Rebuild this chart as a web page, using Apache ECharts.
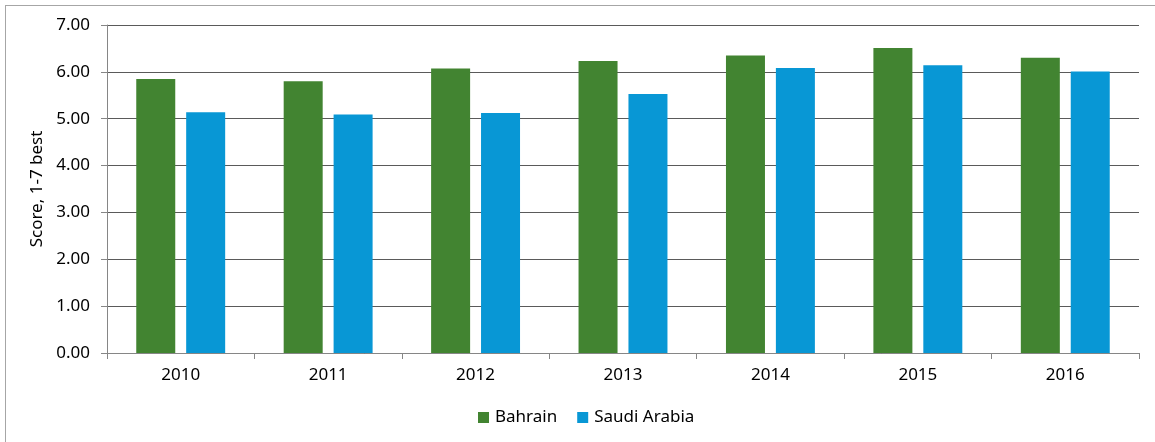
<!DOCTYPE html>
<html>
<head>
<meta charset="utf-8">
<script src="https://cdn.jsdelivr.net/npm/echarts@6/dist/echarts.min.js"></script>
<style>
html,body{margin:0;padding:0;background:#fff;}
#frame{position:absolute;left:5px;top:5px;width:1150px;height:437px;border-top:1px solid #a6a6a6;border-left:1px solid #a6a6a6;}
#chart{position:absolute;left:0;top:0;width:1155px;height:442px;}
</style>
</head>
<body>
<div id="frame"></div>
<div id="chart"></div>
<script>
const categories = ['2010','2011','2012','2013','2014','2015','2016'];
const bahrain = [5.85, 5.80, 6.07, 6.23, 6.35, 6.51, 6.30];
const saudiArabia = [5.14, 5.09, 5.12, 5.53, 6.08, 6.14, 6.01];
const seriesNames = ['Bahrain', 'Saudi Arabia'];
const yAxisName = 'Score, 1-7 best';

const font = '"Noto Sans", "Open Sans", sans-serif';
const fs = 17;
const chart = echarts.init(document.getElementById('chart'), null, {renderer: 'canvas'});
chart.setOption({
  animation: false,
  textStyle: {fontFamily: font},
  grid: {left: 107, right: 16, top: 25, bottom: 89},
  legend: {
    data: seriesNames,
    bottom: 11,
    left: 473,
    itemWidth: 11,
    itemHeight: 11,
    itemGap: 20,
    icon: 'rect',
    textStyle: {fontSize: fs, color: '#000', fontFamily: font, padding: [0, 0, 0, 1]}
  },
  xAxis: {
    type: 'category',
    data: categories,
    boundaryGap: true,
    axisLine: {lineStyle: {color: '#868686', width: 1}},
    axisTick: {show: true, length: 6, interval: 0, lineStyle: {color: '#868686'}},
    axisLabel: {fontSize: fs, color: '#000', margin: 14, fontFamily: font}
  },
  yAxis: {
    type: 'value',
    min: 0, max: 7, interval: 1,
    name: yAxisName,
    nameLocation: 'middle',
    nameGap: 60,
    nameRotate: 90,
    nameTextStyle: {fontSize: fs, color: '#000', fontFamily: font},
    axisLine: {show: true, lineStyle: {color: '#868686'}},
    axisTick: {show: true, length: 6, lineStyle: {color: '#868686'}},
    axisLabel: {fontSize: fs, color: '#000', margin: 17, fontFamily: font,
      formatter: v => v.toFixed(2)},
    splitLine: {lineStyle: {color: '#5a5a5a', width: 1}}
  },
  series: [
    {name: seriesNames[0], type: 'bar', data: bahrain, barWidth: 39, barGap: '28%',
     itemStyle: {color: '#428431'}},
    {name: seriesNames[1], type: 'bar', data: saudiArabia, barWidth: 39,
     itemStyle: {color: '#0897d5'}}
  ]
});
</script>
</body>
</html>
